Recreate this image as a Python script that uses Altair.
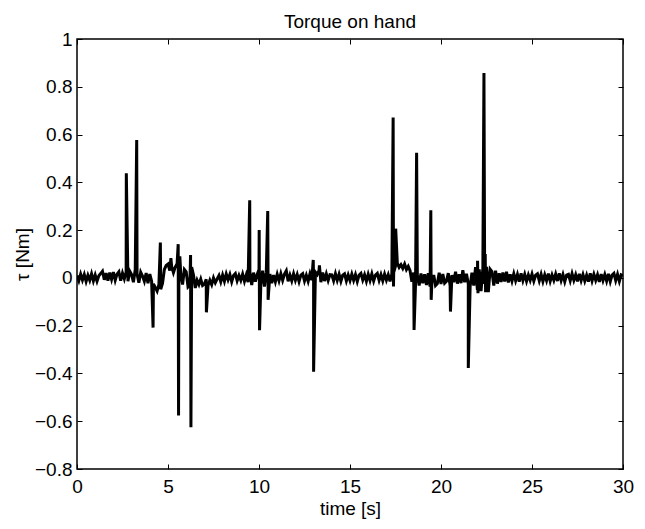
import altair as alt
import pandas as pd

# Baseline torque samples every 0.1 s, in thousandths of Nm (one row per second)
base_rows = [
    [10, -12, 16, -9, 14, -15, 11, -10, 17, -13],
    [12, -14, 9, 18, 28, -8, 20, -12, 22, -6],
    [24, -10, 16, 26, -12, 20, -4, 25, -14, 28],
    [14, -18, 35, 16, -20, 24, 8, -14, 20, -22],
    [16, -14, -25, -40, -55, -28, -48, -22, 35, 52],
    [58, 30, 48, 22, 45, 60, 38, 18, -28, 35],
    [25, -38, -30, 45, 12, -42, -10, -28, -5, -32],
    [-26, -6, -32, -10, -28, 0, -20, -4, 10, -16],
    [12, -14, 16, -8, 14, -16, 10, 18, -12, 10],
    [-10, 16, -14, 12, -18, 26, -30, 22, -16, 14],
    [35, -28, 30, -36, 24, -45, 16, -22, 12, -16],
    [15, -12, 18, -10, 16, 30, -14, 12, -12, 17],
    [-10, 14, -15, 12, 18, -13, 11, -14, 17, -9],
    [-16, 24, 14, 32, -18, 22, -13, 16, -11, 14],
    [13, -12, 18, -10, 15, -14, 11, 17, -13, 12],
    [-11, 16, -10, 14, -15, 12, 19, -9, 13, -14],
    [15, -11, 17, -13, 12, 19, -10, 14, -12, 16],
    [-9, 13, -15, 17, 22, 50, 62, 44, 55, 40],
    [58, 35, 48, 30, -16, 22, -28, 12, -32, 18],
    [-22, 15, -30, 20, -36, -16, 12, -32, -24, 22],
    [-26, 16, -22, -14, 20, -32, 12, -18, 26, -24],
    [15, -22, 32, -18, 17, -26, -36, 22, -32, 45],
    [-50, 36, -55, 40, -26, 46, -60, 36, 26, -32],
    [30, -24, 19, -17, 22, -15, 26, -19, 15, -13],
    [17, -12, 14, -16, 19, -11, 15, -14, 12, -10],
    [16, -13, 11, 17, -12, 15, -15, 13, -11, 18],
    [-14, 12, -10, 16, -13, 19, -11, 14, -16, 12],
    [15, -12, 18, -10, 13, -15, 17, -11, 14, -13],
    [11, -16, 19, -12, 15, -10, 13, -17, 16, -11],
    [14, -13, 17, -15, 12, 19, -11, 15, -14, 13],
    [10],
]

# Impact spikes: time [s] and torque [Nm]
spike_t = [2.71, 3.28, 4.18, 4.58, 5.16, 5.56, 5.58, 5.65, 6.24, 6.26, 7.11,
           9.49, 10.01, 10.03, 10.48, 10.50, 12.98, 13.00, 13.32,
           17.37, 17.39, 17.51, 18.52, 18.66, 19.44, 19.46, 20.52, 21.50,
           22.01, 22.03, 22.36, 22.43, 22.45]
spike_v = [0.438, 0.577, -0.208, 0.148, 0.083, 0.141, -0.576, 0.09, 0.096, -0.625, -0.144,
           0.325, 0.200, -0.219, 0.280, -0.092, 0.075, -0.393, 0.052,
           0.671, -0.036, 0.206, -0.218, 0.524, 0.283, -0.092, -0.141, -0.377,
           0.072, -0.064, 0.858, 0.10, -0.06]

x_ticks = [0, 5, 10, 15, 20, 25, 30]
y_ticks = [-0.8, -0.6, -0.4, -0.2, 0, 0.2, 0.4, 0.6, 0.8, 1.0]

base_v = [v / 1000 for row in base_rows for v in row]
base_t = [round(i * 0.1, 1) for i in range(len(base_v))]

df = pd.DataFrame({"t": base_t + spike_t, "v": base_v + spike_v})
df = df.sort_values("t", kind="mergesort").reset_index(drop=True)
df["idx"] = range(len(df))

FONT = "Liberation Sans"
W, H = 546, 430

chart = alt.Chart(df).mark_line(color="black", strokeWidth=3, clip=True).encode(
    x=alt.X("t:Q", scale=alt.Scale(domain=[0, 30], nice=False, zero=False),
            axis=alt.Axis(values=x_ticks, title="time [s]", labelFlush=False,
                          labelOverlap=False, gridDash=[5, H - 10],
                          labelPadding=8, titlePadding=3)),
    y=alt.Y("v:Q", scale=alt.Scale(domain=[-0.8, 1.0], nice=False, zero=False),
            axis=alt.Axis(values=y_ticks, title="τ [Nm]", labelOverlap=False,
                          labelExpr="datum.value == 0 ? '0' : (datum.value == 1 ? '1' : format(datum.value, '.1f'))",
                          gridDash=[5, W - 10], labelPadding=5, titlePadding=2)),
    order="idx:Q",
).properties(
    width=W, height=H,
    title=alt.TitleParams(text="Torque on hand", font=FONT, fontSize=19,
                          fontWeight="normal", color="black", anchor="middle",
                          offset=-2),
    autosize=alt.AutoSizeParams(type="none"),
    padding={"left": 69, "top": 31, "right": 14, "bottom": 52},
).configure_view(
    stroke="black", strokeWidth=1.5
).configure_axis(
    domain=False, ticks=False, grid=True, gridColor="black", gridOpacity=1,
    gridWidth=1, labelFont=FONT, labelFontSize=19, labelColor="black",
    titleFont=FONT, titleFontSize=19, titleFontWeight="normal", titleColor="black",
)

chart.save("out.html", embed_options={"renderer": "svg", "actions": False})
